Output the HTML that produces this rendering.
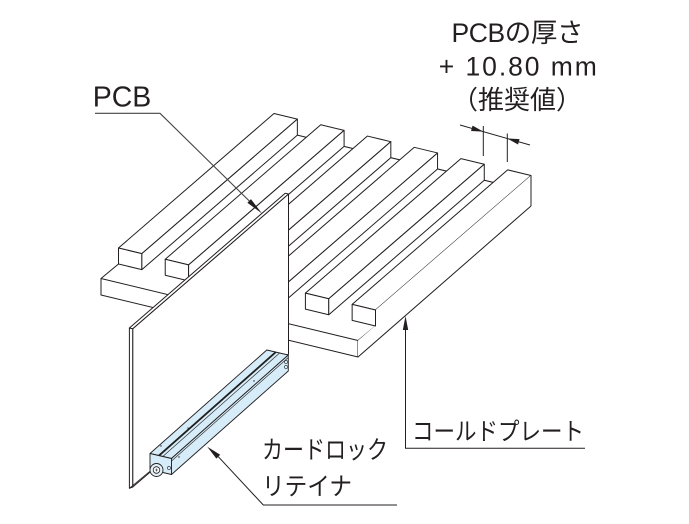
<!DOCTYPE html>
<html>
<head>
<meta charset="utf-8">
<style>
  html,body{margin:0;padding:0;background:#fff;}
  body{width:689px;height:524px;overflow:hidden;}
  svg{display:block;}
  .lat{font-family:"Liberation Sans","Noto Sans CJK JP",sans-serif;}
  .jp{font-family:"Liberation Sans","Noto Sans CJK JP",sans-serif;}
</style>
</head>
<body>
<svg width="689" height="524" viewBox="0 0 689 524" xmlns="http://www.w3.org/2000/svg">
<rect x="0" y="0" width="689" height="524" fill="#fff"/>
<g stroke="#231f20" stroke-width="1" stroke-linejoin="round" fill="#fff">
  <!-- base plate -->
  <polygon points="101,278.5 358,340.5 531,191.5 274,129.5" stroke="none"/>
  <path d="M101,278.5 L118.5,264 M358,340.5 L375.5,326 M274,129.5 L531,191.5" fill="none"/>
  <polygon points="101,278.5 358,340.5 358,357 101,295"/>
  <polygon points="358,340.5 531,191.5 531,206 358,357" stroke="none"/>
  <path d="M358,357 L531,206" fill="none"/>

  <!-- rail 0 -->
  <polygon points="118.5,248 141.86,253.64 297.36,119.14 274,113.5"/>
  <polygon points="118.5,264 141.86,269.64 141.86,253.64 118.5,248"/>
  <polygon points="141.86,269.64 297.36,135.14 297.36,119.14 141.86,253.64"/>
  <!-- rail 1 -->
  <polygon points="165.23,259.27 188.59,264.91 344.09,130.41 320.73,124.77"/>
  <polygon points="165.23,275.27 188.59,280.91 188.59,264.91 165.23,259.27"/>
  <polygon points="188.59,280.91 344.09,146.41 344.09,130.41 188.59,264.91"/>
  <!-- rail 2 -->
  <polygon points="211.95,270.55 235.32,276.18 390.82,141.68 367.45,136.05"/>
  <polygon points="211.95,286.55 235.32,292.18 235.32,276.18 211.95,270.55"/>
  <polygon points="235.32,292.18 390.82,157.68 390.82,141.68 235.32,276.18"/>
  <!-- rail 3 -->
  <polygon points="258.68,281.82 282.05,287.45 437.55,152.95 414.18,147.32"/>
  <polygon points="258.68,297.82 282.05,303.45 282.05,287.45 258.68,281.82"/>
  <polygon points="282.05,303.45 437.55,168.95 437.55,152.95 282.05,287.45"/>
  <!-- rail 4 -->
  <polygon points="305.41,293.09 328.77,298.73 484.27,164.23 460.91,158.59"/>
  <polygon points="305.41,309.09 328.77,314.73 328.77,298.73 305.41,293.09"/>
  <polygon points="328.77,314.73 484.27,180.23 484.27,164.23 328.77,298.73"/>
  <!-- rail 5 (flush with right side) -->
  <polygon points="352.14,304.36 375.5,310 531,175.5 507.64,169.86"/>
  <polygon points="375.5,326 531,191.5 531,175.5 375.5,310" stroke="none"/>
  <polygon points="352.14,320.36 375.5,326 375.5,310 352.14,304.36"/>
  <path d="M531,175.5 L531,206" fill="none"/>

  <!-- PCB -->
  <polygon points="132.7,328.8 288.5,194 288.5,354 132.7,487"/>
  <polygon points="129.4,328 285.2,193.2 288.5,194 132.7,328.8"/>
  <polygon points="129.4,328 132.7,328.8 132.7,487 129.4,488.3"/>
  <path d="M129.4,488.3 L152,469.5" fill="none" stroke-width="0.8"/>

  <!-- card lock retainer -->
  <g fill="#d6ecf8" stroke-width="0.9">
    <polygon points="150,453.5 171.5,458.5 288.3,355 266.8,350"/>
    <polygon points="171.5,458.5 171.5,474.5 288.3,371 288.3,355"/>
    <polygon points="150,453.5 171.5,458.5 171.5,474.5 150,469.5"/>
  </g>
  <path d="M159,455.6 L275.8,352.1" stroke="#1e1e1e" stroke-width="1.8" fill="none"/>
  <path d="M162.8,456.5 L279.6,353" stroke-width="0.6" fill="none"/>
  <path d="M171.5,461 L288.3,357.5" stroke-width="0.6" fill="none"/>
  <circle cx="286" cy="362" r="1.6" fill="none" stroke-width="0.6"/>
  <circle cx="286" cy="367" r="1.6" fill="none" stroke-width="0.6"/>
  <circle cx="169" cy="468" r="1.6" fill="none" stroke-width="0.6"/>
  <circle cx="156.5" cy="470" r="6.5" fill="#e2f1fa" stroke-width="0.9"/>
  <circle cx="156.5" cy="470" r="3.3" fill="#fff" stroke-width="0.8"/>
  <path d="M155,470 L158,470 M156.5,468.5 L156.5,471.5" stroke-width="0.6" fill="none"/>
  <circle cx="161" cy="446" r="0.7" fill="#231f20" stroke="none"/>
  <circle cx="179" cy="457" r="0.7" fill="#231f20" stroke="none"/>
  <circle cx="254" cy="381" r="0.7" fill="#231f20" stroke="none"/>
  <circle cx="188" cy="428" r="0.6" fill="#231f20" stroke="none"/>
</g>

<!-- leaders -->
<g stroke="#231f20" stroke-width="1" fill="none">
  <path d="M95,113.3 L160,113.3 L249.2,200.9" stroke="#444" stroke-width="1.1"/>
  <path d="M405.5,330 L405.5,448.3 L585,448.3"/>
  <path d="M218.3,456.7 L263.3,505 L397,505"/>
  <path d="M460,125 L530,145"/>
  <path d="M483.3,126 L483.3,156"/>
  <path d="M507.3,133.5 L507.3,162"/>
</g>
<g fill="#231f20" stroke="none">
  <polygon points="262,213.5 247.4,202.7 250.95,199.1"/>
  <polygon points="405.5,316 402.8,330 408.2,330"/>
  <polygon points="207.3,446.7 216.4,458.6 220.2,454.8"/>
  <polygon points="483.3,131.6 472.57,125.6 471.03,131"/>
  <polygon points="507.3,138.5 518.03,144.5 519.57,139.1"/>
</g>

<!-- text -->
<g fill="#231f20">
  <text class="lat" x="92.7" y="106.7" font-size="28.5">PCB</text>
  <text class="lat" x="451.5" y="42" font-size="26.5" textLength="132" lengthAdjust="spacing">PCBの厚さ</text>
  <text class="lat" x="438.8" y="75.5" font-size="26.5" textLength="158" lengthAdjust="spacing">+ 10.80 mm</text>
  <text class="jp" x="452" y="109" font-size="26">（推奨値）</text>
  <text class="jp" x="412" y="440" font-size="24.5" textLength="172" lengthAdjust="spacingAndGlyphs">コールドプレート</text>
  <text class="jp" x="262" y="458.5" font-size="25" textLength="126" lengthAdjust="spacingAndGlyphs">カードロック</text>
  <text class="jp" x="262" y="495" font-size="25" textLength="90" lengthAdjust="spacingAndGlyphs">リテイナ</text>
</g>
</svg>
</body>
</html>
